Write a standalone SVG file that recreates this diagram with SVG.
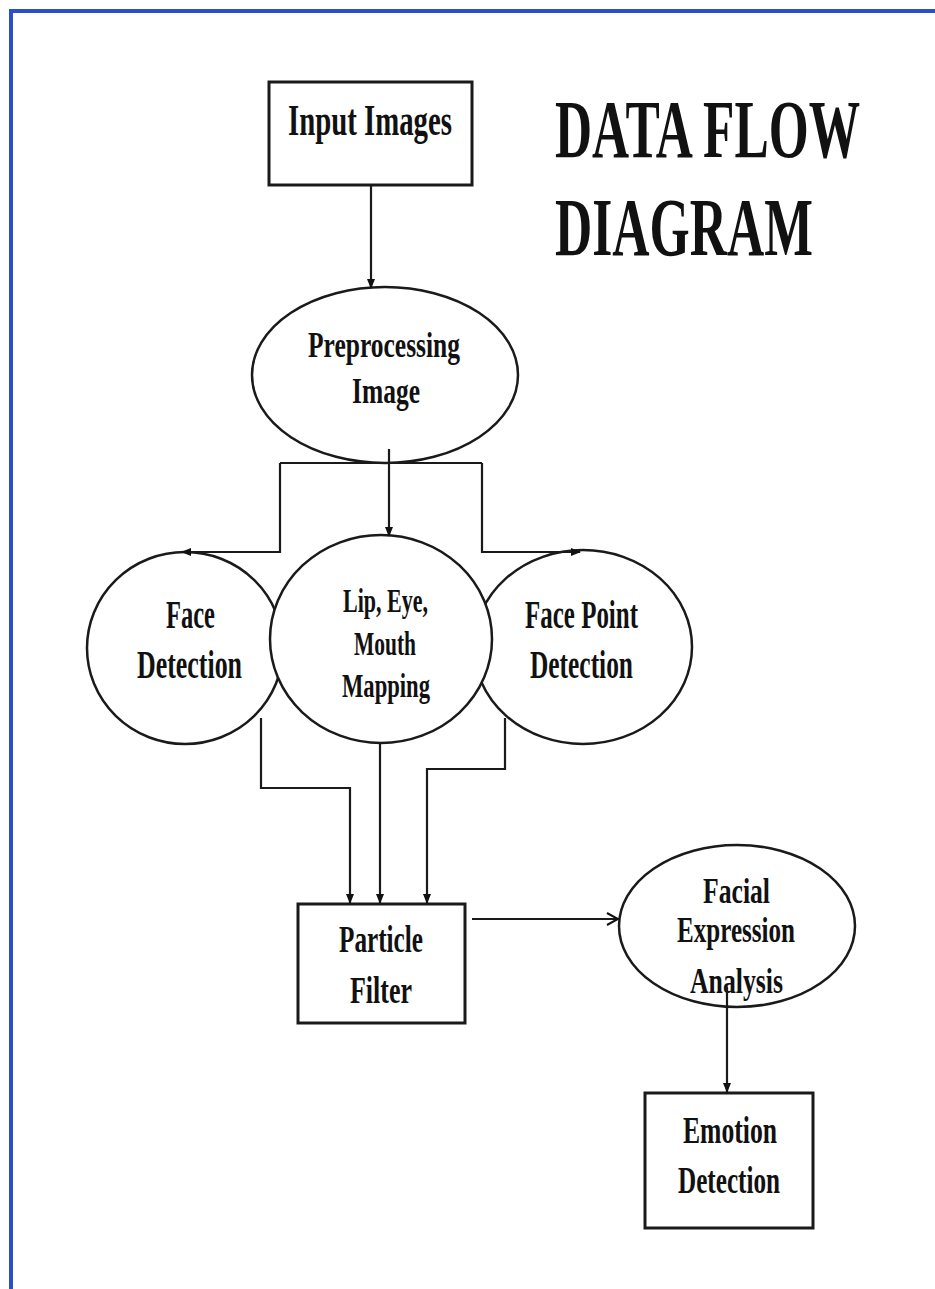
<svg xmlns="http://www.w3.org/2000/svg" width="935" height="1289" viewBox="0 0 935 1289">
<defs>
<marker id="ah" markerWidth="10" markerHeight="10" refX="9" refY="5" orient="auto" markerUnits="userSpaceOnUse">
<path d="M0,1 L10,5 L0,9 Z" fill="#111"/>
</marker>
<marker id="ao" markerWidth="14" markerHeight="14" refX="12" refY="7" orient="auto" markerUnits="userSpaceOnUse">
<path d="M1,1 L12,7 L1,13" fill="none" stroke="#111" stroke-width="2"/>
</marker>
<style>
.box{fill:#fff;stroke:#1a1a1a;stroke-width:3}
.ell{fill:#fff;stroke:#1a1a1a;stroke-width:2.5}
.t{font-family:"Liberation Serif","Times New Roman",serif;font-weight:bold;fill:#111;text-anchor:start}
.c{fill:none;stroke:#1a1a1a;stroke-width:2.2}
.border{fill:none;stroke:#2b4fc6;stroke-width:4}
</style>
</defs>
<rect width="935" height="1289" fill="#fff"/>
<path class="border" d="M11,1289 L11,11 L935,11"/>

<g id="title">
<text class="t" transform="translate(555,157) scale(0.62,1)" x="0" y="0" font-size="83" textLength="492" lengthAdjust="spacingAndGlyphs">DATA FLOW</text>
<text class="t" transform="translate(555,255) scale(0.62,1)" x="0" y="0" font-size="83" textLength="416" lengthAdjust="spacingAndGlyphs">DIAGRAM</text>
</g>

<g id="input-images">
<rect class="box" x="269" y="82" width="203" height="103"/>
<text class="t" x="288" y="135" font-size="44" textLength="164" lengthAdjust="spacingAndGlyphs">Input Images</text>
</g>

<g id="preprocessing">
<ellipse class="ell" cx="385" cy="375" rx="133" ry="88"/>
<text class="t" x="308" y="357" font-size="36" textLength="152" lengthAdjust="spacingAndGlyphs">Preprocessing</text>
<text class="t" x="352" y="403" font-size="36" textLength="68" lengthAdjust="spacingAndGlyphs">Image</text>
</g>

<g id="face-detection">
<ellipse class="ell" cx="185" cy="648" rx="98" ry="96"/>
<text class="t" x="166" y="628" font-size="39" textLength="49" lengthAdjust="spacingAndGlyphs">Face</text>
<text class="t" x="137" y="678" font-size="39" textLength="105" lengthAdjust="spacingAndGlyphs">Detection</text>
</g>

<g id="face-point-detection">
<ellipse class="ell" cx="583" cy="647" rx="109" ry="97"/>
<text class="t" x="525" y="628" font-size="39" textLength="113" lengthAdjust="spacingAndGlyphs">Face Point</text>
<text class="t" x="530" y="678" font-size="39" textLength="103" lengthAdjust="spacingAndGlyphs">Detection</text>
</g>

<g id="lip-eye-mouth">
<ellipse class="ell" cx="381" cy="639" rx="111" ry="104"/>
<text class="t" x="343" y="612" font-size="33" textLength="85" lengthAdjust="spacingAndGlyphs">Lip, Eye,</text>
<text class="t" x="354" y="655" font-size="33" textLength="62" lengthAdjust="spacingAndGlyphs">Mouth</text>
<text class="t" x="342" y="697" font-size="33" textLength="88" lengthAdjust="spacingAndGlyphs">Mapping</text>
</g>

<g id="particle-filter">
<rect class="box" x="298" y="904" width="167" height="119"/>
<text class="t" x="339" y="952" font-size="38" textLength="84" lengthAdjust="spacingAndGlyphs">Particle</text>
<text class="t" x="350" y="1003" font-size="38" textLength="62" lengthAdjust="spacingAndGlyphs">Filter</text>
</g>

<g id="facial-expression">
<ellipse class="ell" cx="737" cy="926" rx="118" ry="81"/>
<text class="t" x="703" y="903" font-size="36" textLength="67" lengthAdjust="spacingAndGlyphs">Facial</text>
<text class="t" x="677" y="942" font-size="36" textLength="118" lengthAdjust="spacingAndGlyphs">Expression</text>
<text class="t" x="690" y="993" font-size="36" textLength="93" lengthAdjust="spacingAndGlyphs">Analysis</text>
</g>

<g id="emotion-detection">
<rect class="box" x="645" y="1093" width="168" height="135"/>
<text class="t" x="683" y="1143" font-size="38" textLength="94" lengthAdjust="spacingAndGlyphs">Emotion</text>
<text class="t" x="678" y="1193" font-size="38" textLength="102" lengthAdjust="spacingAndGlyphs">Detection</text>
</g>

<g id="connectors">
<path class="c" d="M371,185 L371,288" marker-end="url(#ah)"/>
<path class="c" d="M389,449 L389,536" marker-end="url(#ah)"/>
<path class="c" d="M280,463 L482,463"/>
<path class="c" d="M280,463 L280,552 L182,552" marker-end="url(#ah)"/>
<path class="c" d="M482,463 L482,552 L580,552" marker-end="url(#ah)"/>
<path class="c" d="M261,718 L261,788 L350,788 L350,903" marker-end="url(#ah)"/>
<path class="c" d="M380,743 L380,903" marker-end="url(#ah)"/>
<path class="c" d="M505,718 L505,769 L427,769 L427,903" marker-end="url(#ah)"/>
<path class="c" d="M472,919 L618,919" marker-end="url(#ao)"/>
<path class="c" d="M727,987 L727,1092" marker-end="url(#ah)"/>
</g>
</svg>
